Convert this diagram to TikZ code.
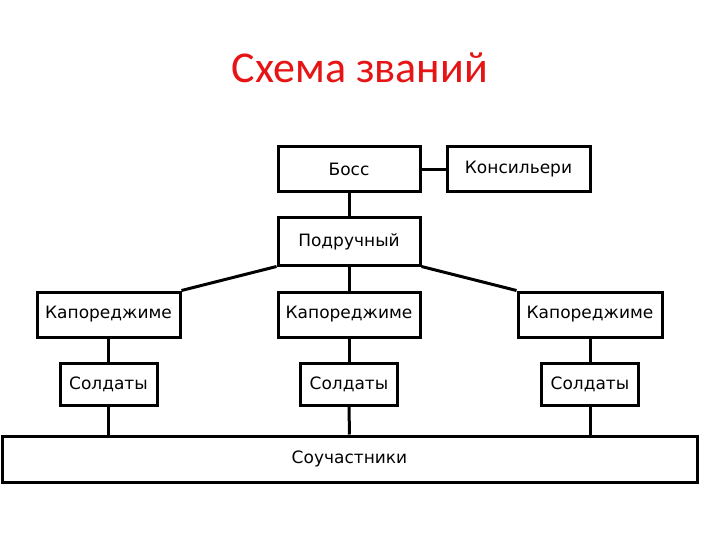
\documentclass[tikz,border=0pt]{standalone}
\usepackage{fontspec}
\setmainfont{DejaVu Sans}
\newfontfamily\titlefont{Carlito}
\usepackage{xcolor}
\definecolor{titlered}{RGB}{230,20,20}

\begin{document}
\begin{tikzpicture}[x=1pt,y=-1pt]
    % Styles for boxes and lines
    \tikzset{
      box/.style={rectangle, draw=black, line width=3pt, align=center, inner sep=0pt, minimum height=45pt, font=\fontsize{17}{20}\selectfont},
      link/.style={line width=3pt}
    }
    \useasboundingbox (0,0) rectangle (720,540);

    % Title
    \node[text=titlered, font=\titlefont\fontsize{44}{50}\selectfont] (title) at (360,68) {Схема званий};

    % Nodes with explicit coordinates
    \node[box, minimum width=142pt] (boss) at (349,169.5) {Босс};
    \node[box, minimum width=143pt] (consig) at (518.5,169.5) {\raisebox{2pt}{Консильери}};
    \node[box, minimum width=142pt, minimum height=47pt] (under) at (349,241.5) {\raisebox{2pt}{Подручный}};

    \node[box, minimum width=143pt] (capoL) at (108.5,314.5) {Капореджиме};
    \node[box, minimum width=142pt] (capoM) at (349,314.5) {Капореджиме};
    \node[box, minimum width=144pt] (capoR) at (590,314.5) {Капореджиме};

    \node[box, minimum width=97pt, minimum height=42pt] (soldL) at (108.5,384) {Солдаты};
    \node[box, minimum width=97pt, minimum height=42pt] (soldM) at (349,384) {Солдаты};
    \node[box, minimum width=97pt, minimum height=42pt] (soldR) at (590,384) {\raisebox{2pt}{Солдаты}};

    \node[box, minimum width=695pt, minimum height=46pt] (assoc) at (349.5,459) {Соучастники};

    % Connectors
    \draw[link] (boss) -- (consig);
    \draw[link] (boss) -- (under);
    \draw[link] (under) -- (capoM);
    \draw[link] (under.south west) -- (capoL.north east);
    \draw[link] (under.south east) -- (capoR.north west);

    \draw[link] (capoL) -- (soldL);
    \draw[link] (capoM) -- (soldM);
    \draw[link] (capoR) -- (soldR);

    \draw[link] (soldL.south) -- (soldL.south |- assoc.north);
    \draw[link] (soldM) -- (assoc);
    \draw[link] (soldR.south) -- (soldR.south |- assoc.north);

\end{tikzpicture}
\end{document}
